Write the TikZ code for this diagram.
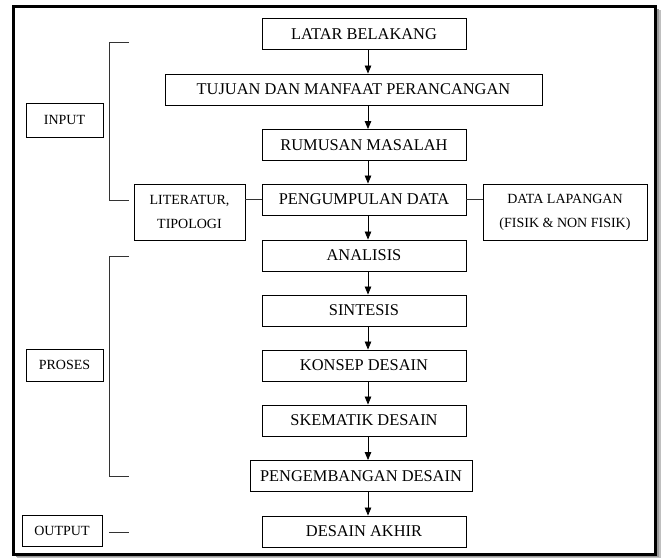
\documentclass[tikz,border=0pt]{standalone}
\usepackage{fontspec}
\setmainfont{Liberation Serif}
\usetikzlibrary{arrows.meta}
\begin{document}
\begin{tikzpicture}[x=1pt,y=-1pt,
  mainbox/.style={draw=black, line width=0.9pt, minimum height=31pt, text=black,
    font=\fontsize{16.4}{18}\selectfont, inner sep=0pt},
  sidebox/.style={draw=black, line width=0.9pt, text=black,
    font=\fontsize{14}{24}\selectfont, inner sep=0pt, align=center},
  flow/.style={line width=0.8pt, -{Triangle[length=8pt,width=6.5pt]}},
  link/.style={line width=0.8pt, draw=black!80}]
\useasboundingbox (0,0) rectangle (665,558);
% shadow and frame
\fill[black!25] (17,10) rectangle (661,558);
\fill[black!40] (16,9) rectangle (659,557);
\filldraw[fill=white, draw=black, line width=3pt] (13.5,6.5) rectangle (655.5,554.5);
% centre column
\node[mainbox, minimum width=204pt] (latar) at (364,34) {LATAR BELAKANG};
\node[mainbox, minimum width=377pt] (tujuan) at (353.5,89.5) {TUJUAN DAN MANFAAT PERANCANGAN};
\node[mainbox, minimum width=204pt] (rumusan) at (364,145) {RUMUSAN MASALAH};
\node[mainbox, minimum width=204pt] (data) at (364,199.5) {PENGUMPULAN DATA};
\node[mainbox, minimum width=204pt] (analisis) at (364,255.5) {ANALISIS};
\node[mainbox, minimum width=204pt] (sintesis) at (364,310.5) {SINTESIS};
\node[mainbox, minimum width=204pt] (konsep) at (364,365.5) {KONSEP DESAIN};
\node[mainbox, minimum width=204pt] (skematik) at (364,420.5) {SKEMATIK DESAIN};
\node[mainbox, minimum width=222pt] (kembang) at (361,476) {PENGEMBANGAN DESAIN};
\node[mainbox, minimum width=204pt] (akhir) at (364,531.5) {DESAIN AKHIR};
% side boxes
\node[sidebox, minimum width=111pt, minimum height=56pt] (lit) at (189.5,212) {LITERATUR,\\TIPOLOGI};
\node[sidebox, minimum width=164pt, minimum height=56pt] (lap) at (565,212) {DATA LAPANGAN\\(FISIK \& NON FISIK)};
\node[sidebox, minimum width=77pt, minimum height=34pt] (input) at (64.5,120) {INPUT};
\node[sidebox, minimum width=77pt, minimum height=32pt] (proses) at (64.5,365) {PROSES};
\node[sidebox, minimum width=80pt, minimum height=31pt] (output) at (62,530.5) {OUTPUT};
% arrow column
\coordinate (ax) at (368,0);
\foreach \a/\b in {latar/tujuan, tujuan/rumusan, rumusan/data, data/analisis,
  analisis/sintesis, sintesis/konsep, konsep/skematik, skematik/kembang, kembang/akhir}
  \draw[flow] (\a.south -| ax) -- (\b.north -| ax);
% side links
\draw[link] (data.west) -- (data.west -| lit.east);
\draw[link] (data.east) -- (data.east -| lap.west);
% brackets
\coordinate (i1) at (129,42); \coordinate (i2) at (129,200);
\coordinate (p1) at (129,256); \coordinate (p2) at (129,476);
\coordinate (o1) at (109,532); \coordinate (o2) at (129,532);
\draw[link] (i1) -- ++(-20,0) |- (i2);
\draw[link] (p1) -- ++(-20,0) |- (p2);
\draw[link] (o1) -- (o2);
\end{tikzpicture}
\end{document}
